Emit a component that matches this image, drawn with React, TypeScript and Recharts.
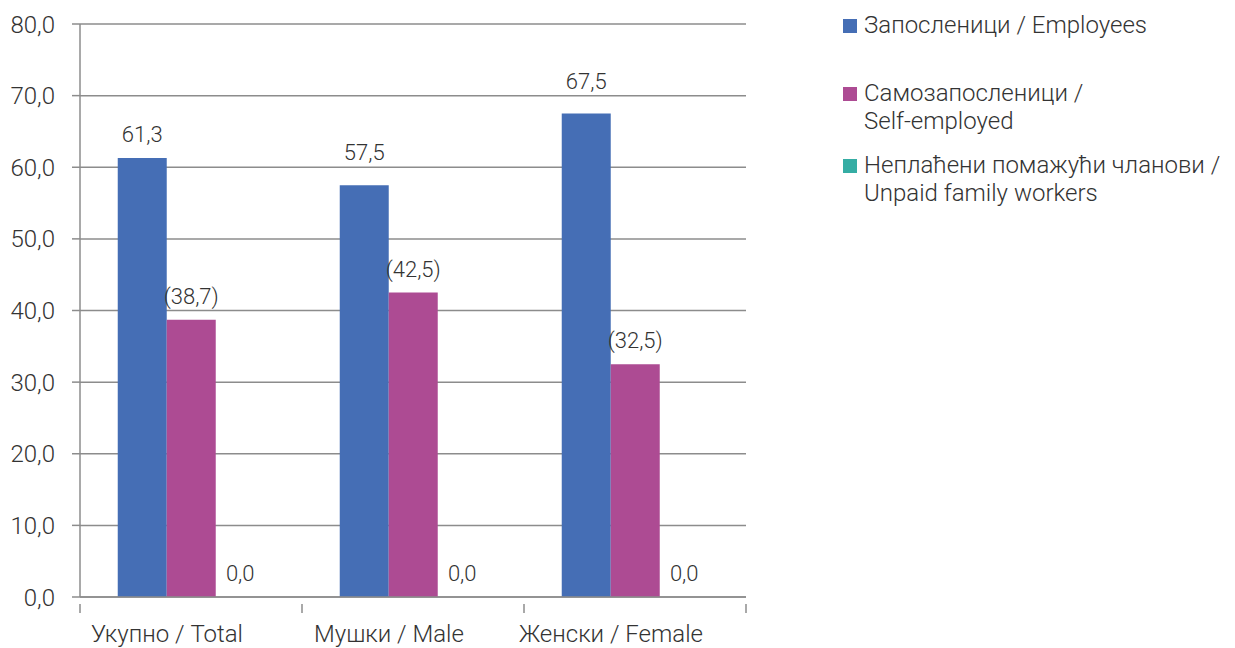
import React from 'react';
import { BarChart, Bar, XAxis, YAxis, CartesianGrid, LabelList, Rectangle } from 'recharts';

const categories = ['Укупно / Total', 'Мушки / Male', 'Женски / Female'];
const employees = [61.3, 57.5, 67.5];
const selfEmployed = [38.7, 42.5, 32.5];
const unpaidFamily = [0.0, 0.0, 0.0];
const yTicks = [0, 10, 20, 30, 40, 50, 60, 70, 80];

const SERIES = [
  { key: 'employees', name: 'Запосленици / Employees', lines: ['Запосленици / Employees'], color: '#456eb5' },
  { key: 'selfEmployed', name: 'Самозапосленици / Self-employed', lines: ['Самозапосленици /', 'Self-employed'], color: '#ad4b93' },
  { key: 'unpaidFamily', name: 'Неплаћени помажући чланови / Unpaid family workers', lines: ['Неплаћени помажући чланови /', 'Unpaid family workers'], color: '#35ada4' },
];

const data = categories.map((name, i) => ({
  name,
  employees: employees[i],
  selfEmployed: selfEmployed[i],
  unpaidFamily: unpaidFamily[i],
}));

const FONT = 'Roboto, "Noto Sans", sans-serif';
const TEXT = '#333333';
const GRID = '#8c8c8c';

const fmt = (v: number) => v.toFixed(1).replace('.', ',');

// category tick: label shifted left, tick marks at the category edges
const CategoryTick = (props: any) => {
  const { x, y, payload, index, visibleTicksCount } = props;
  const half = payload.offset || 0;
  const isLast = index === (visibleTicksCount ?? categories.length) - 1;
  return (
    <g>
      <line x1={x - half} x2={x - half} y1={y - 1} y2={y + 8} stroke={GRID} strokeWidth={1.5} />
      {isLast && <line x1={x + half} x2={x + half} y1={y - 1} y2={y + 8} stroke={GRID} strokeWidth={1.5} />}
      <text
        x={x - 24}
        y={y + 37}
        textAnchor="middle"
        fill={TEXT}
        style={{ fontFamily: FONT, fontWeight: 300, fontSize: 24 }}
      >
        {payload.value}
      </text>
    </g>
  );
};

const ValueLabel = (wrap: boolean) => (props: any) => {
  const { x, y, width, height, value } = props;
  if (value == null) return null;
  const v = Number(value);
  const txt = wrap ? `(${fmt(v)})` : fmt(v);
  // zero bars get drawn with a 1px minimum, measure from their baseline
  const top = Number(y) + (v === 0 ? Number(height) : 0);
  let base = top - 16;
  // lift the label clear of a gridline running through it
  if (v > 0) {
    const ppu = Number(height) / v;
    const hit = yTicks.some((t) => {
      const gy = top + (v - t) * ppu;
      return gy > base - 17 && gy < base + 3;
    });
    if (hit) base -= 9;
  }
  return (
    <text
      x={Number(x) + Number(width) / 2}
      y={base}
      textAnchor="middle"
      fill={TEXT}
      style={{ fontFamily: FONT, fontWeight: 300, fontSize: 22 }}
    >
      {txt}
    </text>
  );
};

const BarShape = (props: any) => (Number(props.value) === 0 ? <g /> : <Rectangle {...props} />);

const LegendBox = () => (
  <div
    style={{
      position: 'absolute',
      left: 835,
      top: 3,
      fontFamily: FONT,
      fontWeight: 300,
      fontSize: 24,
      color: TEXT,
      lineHeight: '28px',
    }}
  >
    {SERIES.map((s, i) => (
      <div key={s.key} style={{ display: 'flex', alignItems: 'flex-start', marginBottom: i === 0 ? 40 : 16 }}>
        <span style={{ display: 'inline-block', width: 14, height: 14, background: s.color, marginTop: 8, marginRight: 7, flexShrink: 0 }} />
        <div>
          {s.lines.map((l) => (
            <div key={l} style={{ whiteSpace: 'nowrap' }}>{l}</div>
          ))}
        </div>
      </div>
    ))}
  </div>
);

export default function App() {
  return (
    <div style={{ width: 1227, height: 640, position: 'relative' }}>
      <BarChart
        width={1227}
        height={640}
        data={data}
        margin={{ top: 16, right: 489, bottom: 0, left: 0 }}
        barCategoryGap="17%"
        barGap={0}
      >
        <CartesianGrid vertical={false} stroke={GRID} strokeWidth={1.5} />
        <XAxis
          dataKey="name"
          height={51}
          interval={0}
          axisLine={{ stroke: GRID, strokeWidth: 1.5 }}
          tickLine={false}
          tick={<CategoryTick />}
        />
        <YAxis
          width={72}
          domain={[0, 80]}
          ticks={yTicks}
          tickFormatter={fmt}
          axisLine={{ stroke: GRID, strokeWidth: 1.5 }}
          tickSize={8}
          tickMargin={17}
          tickLine={{ stroke: GRID, strokeWidth: 1.5 }}
          tick={{ fontFamily: FONT, fontWeight: 300, fontSize: 24, fill: TEXT }}
          interval={0}
        />
        {SERIES.map((s) => (
          <Bar
            key={s.key}
            dataKey={s.key}
            name={s.name}
            fill={s.color}
            minPointSize={1}
            shape={<BarShape />}
            isAnimationActive={false}
          >
            <LabelList dataKey={s.key} content={ValueLabel(s.key === 'selfEmployed')} />
          </Bar>
        ))}
      </BarChart>
      <LegendBox />
    </div>
  );
}
